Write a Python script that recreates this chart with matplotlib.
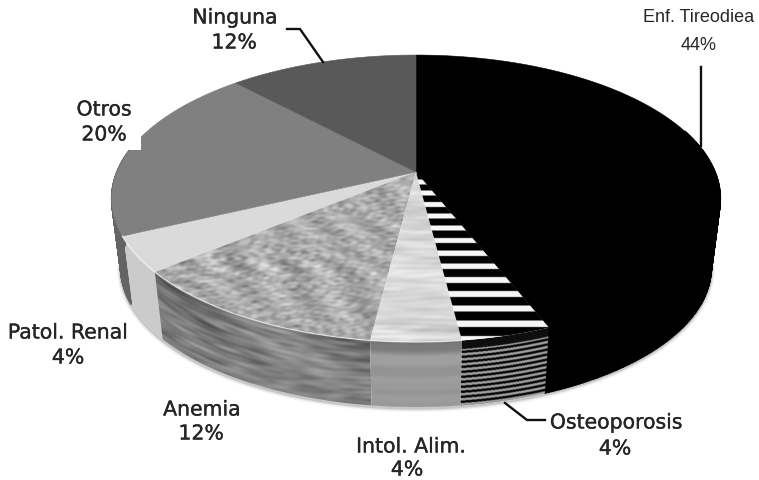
#!/usr/bin/env python
"""Pie of associated conditions, drawn as a textured 3D disc in perspective."""
import numpy as np
import matplotlib
matplotlib.use("Agg")
import matplotlib.pyplot as plt
import matplotlib.patheffects as pe
from matplotlib.collections import PolyCollection
from matplotlib.patches import Polygon, Rectangle

plt.rcParams["font.family"] = ["DejaVu Sans"]

# --- Data, clockwise from twelve o'clock
categories = ["Enf. Tireodiea", "Osteoporosis", "Intol. Alim.", "Anemia",
              "Patol. Renal", "Otros", "Ninguna"]
percents = [44, 4, 4, 12, 4, 20, 12]

# --- Disc projection (pixel space)
CX, CY = 416.0, 172.0
A, B, K = 299.0, 138.6, 0.185
WALL_DY = 70.0
WALL_SCALE = 0.97

W, H = 759, 480


def rim(p, scale=1.0, dy=0.0):
    th = 2 * np.pi * np.asarray(p, dtype=float) / 100.0
    u, v = np.sin(th), np.cos(th)
    w = 1 + K * v
    return CX + A * u / w * scale, CY - B * v / w * scale + dy


def top_poly(a, b):
    x, y = rim(np.linspace(a, b, 120))
    return np.column_stack([np.r_[CX, x], np.r_[CY, y]])


def wall_poly(a, b):
    p = np.linspace(a, b, 120)
    x0, y0 = rim(p)
    x1, y1 = rim(p[::-1], WALL_SCALE, WALL_DY)
    return np.column_stack([np.r_[x0, x1], np.r_[y0, y1]])


def wall_quads(a, b, n=120):
    # top and bottom rims cross near the sides, so fill strip by strip
    p = np.linspace(a, b, n)
    x0, y0 = rim(p)
    x1, y1 = rim(p, WALL_SCALE, WALL_DY)
    return [[(x0[i], y0[i]), (x0[i + 1], y0[i + 1]), (x1[i + 1], y1[i + 1]), (x1[i], y1[i])]
            for i in range(n - 1)]


# --- Texture helpers, evaluated on a half-pixel grid
xs, ys = np.meshgrid(np.arange(0, W, 0.5), np.arange(0, H, 0.5))

front_p = np.linspace(30, 75, 400)
fx, fy = rim(front_p)
order = np.argsort(fx)
rim_y = np.interp(xs, fx[order], fy[order])
wall_d = (ys - rim_y) / WALL_DY


def mottle(x, y, lx, ly, n=70):
    out = np.zeros_like(x)
    for i in range(n):
        ang = i * 2.39996
        f = 2 * np.pi * (0.25 + 1.9 * ((i * 0.618034) % 1))
        out += np.sin(f * (np.cos(ang) * x / lx + np.sin(ang) * y / ly) + 1.7 * i * i) / (0.6 + f / 6)
    return out / np.sqrt(n / 2)


def textured(ax, arr, poly, zorder):
    im = ax.imshow(np.clip(arr, 0, 1), cmap="gray", vmin=0, vmax=1,
                   extent=(0, W, H, 0), interpolation="bilinear", zorder=zorder,
                   aspect="auto")
    clip = Polygon(poly, closed=True, transform=ax.transData)
    im.set_clip_path(clip)


fig = plt.figure(figsize=(W / 100, H / 100), dpi=100)
ax = fig.add_axes([0, 0, 1, 1])
ax.set_xlim(0, W)
ax.set_ylim(H, 0)
ax.axis("off")

edges = np.r_[0, np.cumsum(percents)]
spans = {c: (edges[i], edges[i + 1]) for i, c in enumerate(categories)}

# soft contact shadow under the disc
bx, by = rim(np.linspace(28, 72, 300), WALL_SCALE, WALL_DY + 1)
for lw, al in [(6, 0.04), (4, 0.07), (2.5, 0.12)]:
    ax.plot(bx, by, color="black", lw=lw, alpha=al, zorder=1)

# --- Side walls, only the arcs that face the viewer
black_end = spans["Enf. Tireodiea"][1]
patol = spans["Patol. Renal"]
flat_walls = [((20, black_end), "#000000"), (patol, "#cbcbcb"),
              ((patol[1], 78), "#646464")]
for (a, b), col in flat_walls:
    ax.add_collection(PolyCollection(wall_quads(a, b), facecolors=col,
                                     edgecolors=col, linewidths=1.2, zorder=2))

shade = np.clip(wall_d / 0.22, 0, 1)

# Anemia wall: dark streaks that follow the rim
anemia_wall = 0.50 + 0.085 * mottle(xs, ys - rim_y, 55, 8) - 0.06 * (1 - shade)
textured(ax, anemia_wall, wall_poly(*spans["Anemia"]), 3)

# Intolerance wall: horizontal banding only
bands = mottle(np.zeros_like(xs), wall_d, 1, 0.2, n=24)
intol_wall = 0.60 + 0.03 * bands - 0.14 * (1 - shade)
textured(ax, intol_wall, wall_poly(*spans["Intol. Alim."]), 3)

# Osteoporosis wall: thin black and grey lines
line_phase = (wall_d * 66 / 4.7) % 1
osteo_wall = np.where(line_phase < 0.5, 0.03, 0.62)
osteo_wall = np.where(wall_d < 0.12, 0.06, osteo_wall)
textured(ax, osteo_wall, wall_poly(*spans["Osteoporosis"]), 3)

# --- Top face
flat_tops = {"Enf. Tireodiea": "#000000", "Patol. Renal": "#dadada",
             "Otros": "#808080", "Ninguna": "#595959"}
for name, col in flat_tops.items():
    ax.add_patch(Polygon(top_poly(*spans[name]), closed=True, facecolor=col,
                         edgecolor=col, lw=0.4, zorder=4))

anemia_top = 0.67 + 0.10 * mottle(xs, ys, 16, 7)
textured(ax, anemia_top, top_poly(*spans["Anemia"]), 5)

intol_top = 0.85 + 0.05 * mottle(xs, ys, 70, 8)
textured(ax, intol_top, top_poly(*spans["Intol. Alim."]), 5)

# stripes are evenly spaced on the disc, so they widen towards the front
t = ys - CY
disc_v = -t / (B + K * t)
stripe_phase = (-disc_v / 0.0763 - 0.7) % 1
osteo_top = np.where(stripe_phase < 0.42, 0.97, 0.0)
textured(ax, osteo_top, top_poly(*spans["Osteoporosis"]), 5)

# bevel highlight along the lit part of the rim
hx, hy = rim(np.linspace(spans["Intol. Alim."][0], spans["Patol. Renal"][1], 200))
ax.plot(hx, hy, color="white", lw=1.0, alpha=0.55, zorder=6)

# backing box of the Otros label bites into the rim
ax.add_patch(Rectangle((124, 128), 17, 22, facecolor="white", edgecolor="none", zorder=7))

# --- Leader lines
leaders = [
    ([287, 300, 323], [29, 29, 62]),
    ([701, 701], [67, 146]),
    ([505, 527, 545], [403, 420, 420]),
]
for lx, ly in leaders:
    ax.plot(lx, ly, color="#111111", lw=1.7, zorder=8, solid_joinstyle="miter")

# --- Labels
TEXT = "#262626"
stroke = [pe.withStroke(linewidth=0.25, foreground=TEXT)]
label_pos = {
    "Ninguna": ((235, 18), (234, 43)),
    "Otros": ((104, 110), (104, 135)),
    "Patol. Renal": ((68, 333), (68, 358)),
    "Anemia": ((202, 410), (201, 434)),
    "Intol. Alim.": ((411, 447), (407, 470)),
    "Osteoporosis": ((616, 423), (615, 449)),
}
for (name, pct) in zip(categories, percents):
    if name == "Enf. Tireodiea":
        ax.text(699, 18, name, ha="center", va="center", fontsize=13,
                family="Liberation Sans", color=TEXT, zorder=9)
        ax.text(699, 45, f"{pct}%", ha="center", va="center", fontsize=13,
                family="Liberation Sans", color=TEXT, zorder=9)
        continue
    (nx, ny), (px, py) = label_pos[name]
    ax.text(nx, ny, name, ha="center", va="center", fontsize=14.7, color=TEXT,
            zorder=9, path_effects=stroke)
    ax.text(px, py, f"{pct}%", ha="center", va="center", fontsize=14.7, color=TEXT,
            zorder=9, path_effects=stroke)

fig.savefig("out.png", dpi=100, facecolor="white")
